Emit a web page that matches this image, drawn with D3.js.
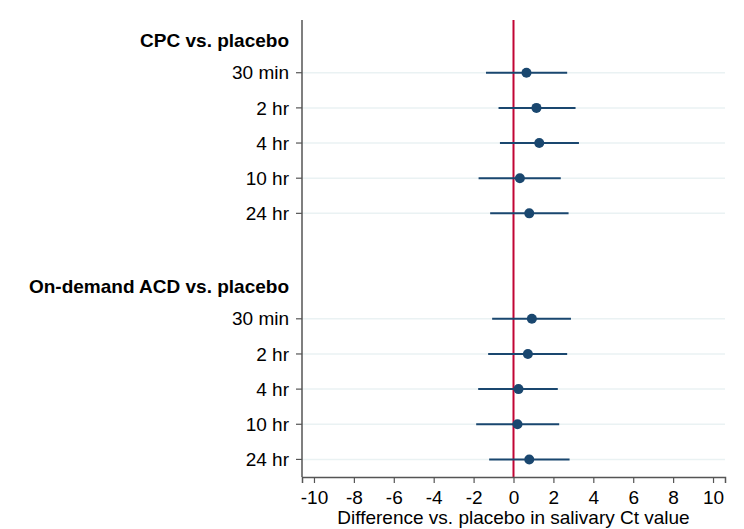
<!DOCTYPE html>
<html>
<head>
<meta charset="utf-8">
<script src="https://cdn.jsdelivr.net/npm/d3@7"></script>
<style>
  body { margin: 0; background: #fff; }
  text { font-family: "Liberation Sans", Arial, sans-serif; }
</style>
</head>
<body>
<div id="wrapper"></div>
<script>
// data
const groups = ["CPC vs. placebo", "On-demand ACD vs. placebo"]
const timepoints = ["30 min", "2 hr", "4 hr", "10 hr", "24 hr"]
const estimates = [
    [0.65, 1.15, 1.29, 0.32, 0.79],
    [0.92, 0.72, 0.25, 0.20, 0.79]
]
const lowers = [
    [-1.38, -0.75, -0.68, -1.75, -1.17],
    [-1.07, -1.27, -1.77, -1.87, -1.22]
]
const uppers = [
    [2.69, 3.11, 3.28, 2.37, 2.76],
    [2.88, 2.69, 2.22, 2.29, 2.81]
]
const xTicks = [-10, -8, -6, -4, -2, 0, 2, 4, 6, 8, 10]
const xTitle = "Difference vs. placebo in salivary Ct value"

// rows: header, 5 timepoints, blank, header, 5 timepoints
const rows = []
const headers = []
groups.forEach((g, gi) => {
    const base = gi * 7
    headers.push({label: g, pos: base - 1})
    timepoints.forEach((t, ti) => {
        rows.push({
            label: t,
            pos: base + ti,
            est: estimates[gi][ti],
            lo: lowers[gi][ti],
            hi: uppers[gi][ti]
        })
    })
})

const width = 744, height = 529
const plot = {left: 302, right: 725, top: 20, bottom: 477}
const fontSize = "19px"

const svg = d3.select("#wrapper").append("svg")
    .attr("width", width)
    .attr("height", height)

const xScale = d3.scaleLinear()
    .domain([-10.6, 10.6])
    .range([plot.left, plot.right])

const yScale = d3.scaleLinear()
    .domain([-1.5, 11.5])
    .range([plot.top, plot.bottom])

const navy = "#1a476f"
const axisColor = "#555"

// gridlines
svg.append("g").selectAll("line")
    .data(rows)
    .join("line")
    .attr("x1", plot.left)
    .attr("x2", plot.right)
    .attr("y1", d => yScale(d.pos))
    .attr("y2", d => yScale(d.pos))
    .attr("stroke", "#eaf2f3")
    .attr("stroke-width", 1.5)

// reference line at 0
svg.append("line")
    .attr("x1", xScale(0))
    .attr("x2", xScale(0))
    .attr("y1", plot.top)
    .attr("y2", plot.bottom)
    .attr("stroke", "#c10534")
    .attr("stroke-width", 2)

// confidence intervals
svg.append("g").selectAll("line")
    .data(rows)
    .join("line")
    .attr("x1", d => xScale(d.lo))
    .attr("x2", d => xScale(d.hi))
    .attr("y1", d => yScale(d.pos))
    .attr("y2", d => yScale(d.pos))
    .attr("stroke", navy)
    .attr("stroke-width", 2)

// point estimates
svg.append("g").selectAll("circle")
    .data(rows)
    .join("circle")
    .attr("cx", d => xScale(d.est))
    .attr("cy", d => yScale(d.pos))
    .attr("r", 5)
    .attr("fill", navy)

// x axis
const xAxis = svg.append("g")
    .attr("transform", `translate(0,${plot.bottom})`)
    .call(d3.axisBottom(xScale).tickValues(xTicks).tickSize(6).tickPadding(8).tickFormat(d => String(d)))
xAxis.select(".domain").attr("stroke", axisColor).attr("stroke-width", 1.5)
xAxis.selectAll(".tick line").attr("stroke", axisColor).attr("stroke-width", 1.2)
xAxis.selectAll(".tick text")
    .attr("fill", "#000")
    .style("font-size", fontSize)
    .style("font-family", "'Liberation Sans', Arial, sans-serif")

svg.append("text")
    .attr("x", (xScale(-10) + xScale(10)) / 2)
    .attr("y", 524)
    .attr("text-anchor", "middle")
    .style("font-size", fontSize)
    .text(xTitle)

// y axis
svg.append("line")
    .attr("x1", plot.left)
    .attr("x2", plot.left)
    .attr("y1", plot.top)
    .attr("y2", plot.bottom)
    .attr("stroke", axisColor)
    .attr("stroke-width", 1.5)

const yTicks = svg.append("g").selectAll("g")
    .data(rows)
    .join("g")
    .attr("transform", d => `translate(${plot.left},${yScale(d.pos)})`)
yTicks.append("line")
    .attr("x1", -6)
    .attr("x2", 0)
    .attr("stroke", axisColor)
    .attr("stroke-width", 1.2)
yTicks.append("text")
    .attr("x", -13)
    .attr("dy", "0.35em")
    .attr("text-anchor", "end")
    .style("font-size", fontSize)
    .text(d => d.label)

svg.append("g").selectAll("text")
    .data(headers)
    .join("text")
    .attr("x", plot.left - 13)
    .attr("y", d => yScale(d.pos) + 3)
    .attr("dy", "0.35em")
    .attr("text-anchor", "end")
    .style("font-size", fontSize)
    .style("font-weight", "bold")
    .text(d => d.label)
</script>
</body>
</html>
